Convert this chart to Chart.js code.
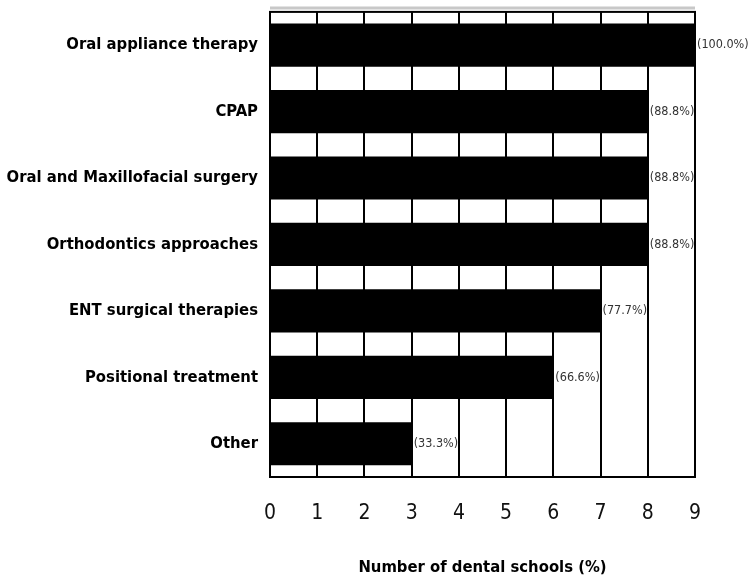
<!DOCTYPE html>
<html>
<head>
<meta charset="utf-8">
<script src="https://cdn.jsdelivr.net/npm/chart.js@4/dist/chart.umd.min.js"></script>
<style>
html,body{margin:0;padding:0;background:#fff;}
#wrap{width:751px;height:588px;position:relative;}
</style>
</head>
<body>
<div id="wrap"><canvas id="c"></canvas></div>
<script>
const categories = ["Oral appliance therapy","CPAP","Oral and Maxillofacial surgery","Orthodontics approaches","ENT surgical therapies","Positional treatment","Other"];
const schoolCounts = [9, 8, 8, 8, 7, 6, 3];
const percentLabels = ["(100.0%)","(88.8%)","(88.8%)","(88.8%)","(77.7%)","(66.6%)","(33.3%)"];
const xTicks = [0,1,2,3,4,5,6,7,8,9];
const xTitle = "Number of dental schools (%)";

const FONT = '"Liberation Sans Narrow","DejaVu Sans Condensed","Roboto Condensed","Liberation Sans",Arial,sans-serif';

const framePlugin = {
  id: 'frame',
  afterDatasetsDraw(chart) {
    const {ctx, chartArea: a} = chart;
    ctx.save();
    ctx.strokeStyle = '#c8c8c8';
    ctx.lineWidth = 3;
    ctx.beginPath();
    ctx.moveTo(a.left, a.top - 4);
    ctx.lineTo(a.right, a.top - 4);
    ctx.stroke();
    ctx.strokeStyle = '#000';
    ctx.lineWidth = 2;
    ctx.strokeRect(a.left, a.top, a.right - a.left, a.bottom - a.top);
    ctx.restore();
  },
  afterDraw(chart) {
    const {ctx} = chart;
    const meta = chart.getDatasetMeta(0);
    ctx.save();
    ctx.font = '12.5px ' + FONT;
    ctx.fillStyle = '#333';
    ctx.textAlign = 'left';
    ctx.textBaseline = 'middle';
    meta.data.forEach((bar, i) => {
      ctx.fillText(percentLabels[i], bar.x + 2, bar.y);
    });
    ctx.restore();
  }
};

new Chart(document.getElementById('c'), {
  type: 'bar',
  data: {
    labels: categories,
    datasets: [{
      data: schoolCounts,
      backgroundColor: '#000',
      borderWidth: 0,
      barPercentage: 0.65,
      categoryPercentage: 1
    }]
  },
  options: {
    indexAxis: 'y',
    responsive: true,
    maintainAspectRatio: false,
    animation: false,
    layout: {padding: {left: 0, right: 56, top: 3, bottom: 6}},
    plugins: {legend: {display: false}, tooltip: {enabled: false}},
    scales: {
      x: {
        min: 0, max: 9,
        afterBuildTicks(scale) { scale.ticks = xTicks.map(v => ({value: v})); },
        grid: {color: '#000', lineWidth: 2, drawTicks: false},
        border: {color: '#000', width: 2},
        ticks: {color: '#111', font: {family: FONT, size: 21}, padding: 24},
        title: {display: true, text: xTitle, color: '#000', font: {family: FONT, size: 16.5, weight: 'bold'}, padding: {top: 8}}
      },
      y: {
        afterFit(scale) { scale.width = 270; },
        grid: {display: false, drawTicks: true, tickLength: 10, tickColor: 'rgba(0,0,0,0)'},
        border: {color: '#000', width: 2},
        ticks: {color: '#000', font: {family: FONT, size: 16.5, weight: 'bold'}, padding: 2}
      }
    }
  },
  plugins: [framePlugin]
});
</script>
</body>
</html>
